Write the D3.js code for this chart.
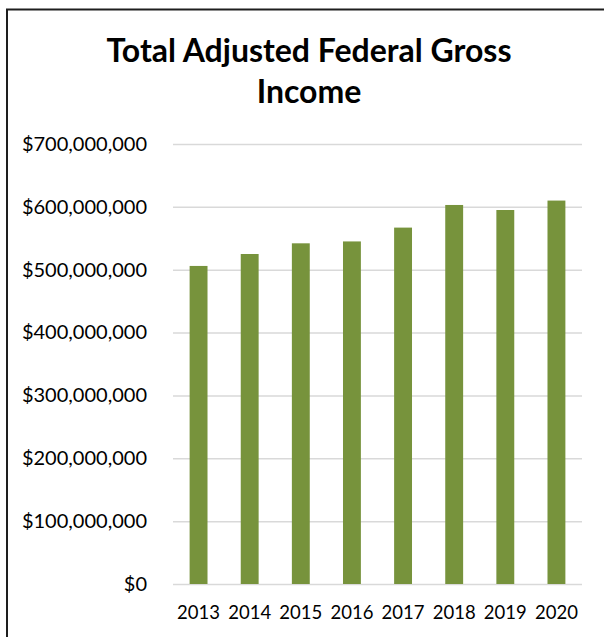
<!DOCTYPE html>
<html><head><meta charset="utf-8">
<script src="https://cdn.jsdelivr.net/npm/d3@7"></script>
<style>html,body{margin:0;padding:0;background:#fff;}svg{display:block;}</style>
</head><body>
<svg id="c" width="604" height="637"></svg>
<script>
const categories = ["2013","2014","2015","2016","2017","2018","2019","2020"];
const values = [506e6, 525e6, 542e6, 545e6, 567e6, 603e6, 595e6, 610e6];
const yTicks = [0, 100e6, 200e6, 300e6, 400e6, 500e6, 600e6, 700e6];
const titleLines = ["Total Adjusted Federal Gross", "Income"];

const svg = d3.select("#c");
const font = "Lato, 'Open Sans', sans-serif";

svg.append("rect").attr("x",7).attr("y",9.5).attr("width",800).attr("height",800)
  .attr("fill","#fff").attr("stroke","#1e1e1e").attr("stroke-width",2);

const x = d3.scaleBand().domain(categories).range([173, 582]).paddingInner(0.65).paddingOuter(0.325);
const y = d3.scaleLinear().domain([0, 700e6]).range([584, 144]);

const fmt = v => "$" + d3.format(",")(v);

const yAxis = svg.append("g").attr("transform","translate(173,0)")
  .call(d3.axisLeft(y).tickValues(yTicks).tickFormat(fmt).tickSize(-409).tickPadding(26));
yAxis.select(".domain").remove();
yAxis.selectAll(".tick line").attr("stroke","#d9d9d9").attr("stroke-width",1.5);
yAxis.selectAll(".tick text").attr("font-family",font).attr("font-size","20px").attr("fill","#000");

svg.append("g").selectAll("rect").data(values).join("rect")
  .attr("x",(d,i)=>x(categories[i]))
  .attr("width",x.bandwidth())
  .attr("y",d=>y(d))
  .attr("height",d=>y(0)-y(d))
  .attr("fill","#77933C");

const xAxis = svg.append("g").attr("transform","translate(0,584)")
  .call(d3.axisBottom(x).tickSize(0).tickPadding(22));
xAxis.select(".domain").remove();
xAxis.selectAll(".tick text").attr("font-family",font).attr("font-size","18.5px").attr("fill","#000");

svg.append("g").selectAll("text").data(titleLines).join("text")
  .attr("x",309).attr("y",(d,i)=>62+i*41)
  .attr("text-anchor","middle").attr("font-family",font).attr("font-weight","bold")
  .attr("font-size","32px").attr("fill","#000").text(d=>d);
</script>
</body></html>
